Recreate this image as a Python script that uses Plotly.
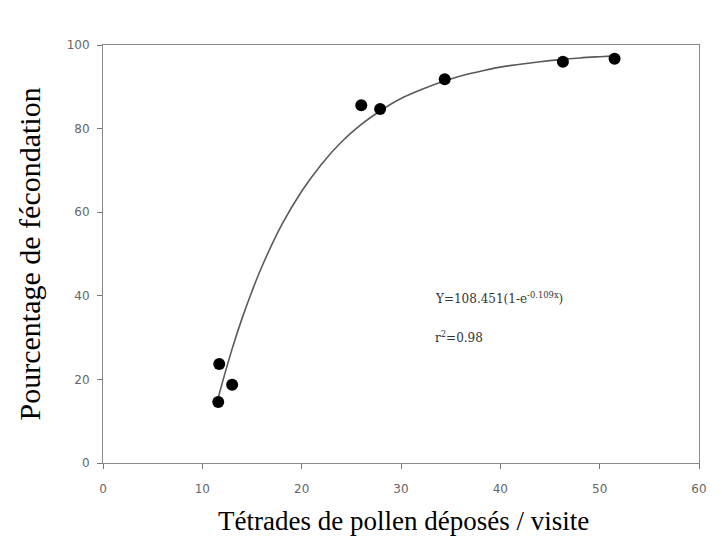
import plotly.graph_objects as go

x_obs = [11.6, 11.7, 13.0, 26.0, 27.9, 34.4, 46.3, 51.5]
y_obs = [14.6, 23.7, 18.7, 85.6, 84.7, 91.8, 96.0, 96.7]

# Fitted curve, points
x_fit = [11.4, 12, 13, 14, 15, 16, 18, 20, 22, 24, 26, 28, 30, 32, 34, 36, 38, 40, 42, 44, 46, 48, 50, 51.5]
y_fit = [13.8, 19.1, 27.3, 34.6, 41.1, 47.0, 57.0, 65.0, 71.5, 76.8, 81.0, 84.4, 87.2, 89.3, 91.1, 92.6,
         93.7, 94.7, 95.4, 96.0, 96.5, 96.9, 97.2, 97.4]

x_ticks = [0, 10, 20, 30, 40, 50, 60]
y_ticks = [0, 20, 40, 60, 80, 100]

x_title = "Tétrades de pollen déposés / visite"
y_title = "Pourcentage de fécondation"
eq_text = "Y=108.451(1-e<sup>-0.109x</sup>)"
r2_text = "r<sup>2</sup>=0.98"

fig = go.Figure()
fig.add_trace(go.Scatter(x=x_fit, y=y_fit, mode="lines",
                         line=dict(color="#5a5a5a", width=1.6, shape="spline"),
                         hoverinfo="skip", showlegend=False))
fig.add_trace(go.Scatter(x=x_obs, y=y_obs, mode="markers",
                         marker=dict(color="black", size=12),
                         showlegend=False))

axis_common = dict(showgrid=False, zeroline=False, showline=True, linecolor="#8a8a8a",
                   linewidth=1, mirror=True, ticks="outside", ticklen=5, tickcolor="#777",
                   tickfont=dict(family="DejaVu Sans", size=12, color="#666"))

fig.update_xaxes(range=[0, 60], tickvals=x_ticks, ticklabelstandoff=10, **axis_common)
fig.update_yaxes(range=[0, 100], tickvals=y_ticks, ticklabelstandoff=5, **axis_common)

fig.add_annotation(text=y_title, xref="paper", yref="paper", x=-0.125, y=0.5,
                   textangle=-90, showarrow=False, xanchor="center", yanchor="middle",
                   font=dict(family="Liberation Serif, Times New Roman", size=30, color="black"))
fig.add_annotation(text=x_title, xref="paper", yref="paper", x=0.505, y=-0.138,
                   showarrow=False, xanchor="center", yanchor="middle",
                   font=dict(family="Liberation Serif, Times New Roman", size=27, color="black"))
fig.add_annotation(text=eq_text, x=33.2, y=39.5, showarrow=False, xanchor="left", yanchor="middle",
                   font=dict(family="DejaVu Serif", size=12, color="#333"))
fig.add_annotation(text=r2_text, x=33.2, y=30.2, showarrow=False, xanchor="left", yanchor="middle",
                   font=dict(family="DejaVu Serif", size=12, color="#333"))

fig.update_layout(width=722, height=537, margin=dict(l=103, r=23, t=45, b=74),
                  plot_bgcolor="white", paper_bgcolor="white")

fig.write_html("out.html")
